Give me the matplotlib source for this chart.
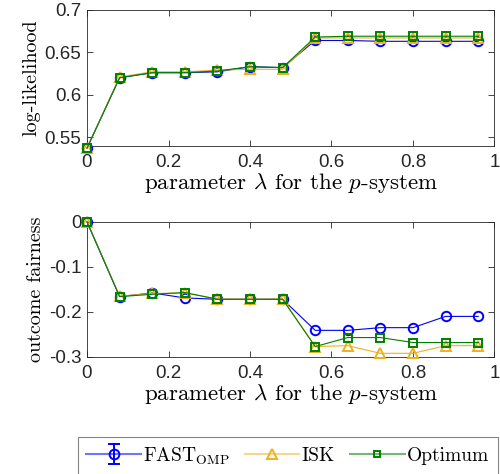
import matplotlib
matplotlib.use('Agg')
import matplotlib.pyplot as plt
from matplotlib.lines import Line2D
from matplotlib.path import Path
import numpy as np

# parameter lambda values
lam = [0, 0.08, 0.16, 0.24, 0.32, 0.40, 0.48, 0.56, 0.64, 0.72, 0.80, 0.88, 0.96]

# log-likelihood
ll_fast = [0.537, 0.620, 0.626, 0.626, 0.627, 0.633, 0.632, 0.664, 0.664, 0.663, 0.663, 0.663, 0.663]
ll_isk = [0.537, 0.621, 0.627, 0.627, 0.629, 0.630, 0.630, 0.667, 0.667, 0.667, 0.667, 0.667, 0.667]
ll_opt = [0.537, 0.620, 0.626, 0.626, 0.628, 0.633, 0.632, 0.668, 0.669, 0.669, 0.669, 0.669, 0.669]

# outcome fairness
of_fast = [0, -0.166, -0.158, -0.169, -0.172, -0.172, -0.172, -0.241, -0.241, -0.235, -0.235, -0.210, -0.210]
of_isk = [0, -0.165, -0.159, -0.158, -0.171, -0.172, -0.171, -0.277, -0.275, -0.292, -0.292, -0.275, -0.275]
of_opt = [0, -0.166, -0.161, -0.157, -0.172, -0.172, -0.172, -0.277, -0.257, -0.257, -0.268, -0.268, -0.268]

labels = [r'FAST$_{\mathrm{OMP}}$', 'ISK', 'Optimum']

blue = (0, 0, 1)
orange = (0.929, 0.694, 0.125)
green = (0, 0.5, 0)
edge = (0.15, 0.15, 0.15)

plt.rcParams['mathtext.fontset'] = 'cm'
tickfont = 'Liberation Sans'
labfont = 'cmr10'

fig = plt.figure(figsize=(5, 4.74), dpi=100)
ax1 = fig.add_axes([0.174, 0.692, 0.815, 0.287])
ax2 = fig.add_axes([0.174, 0.247, 0.815, 0.285])

for ax, ys in [(ax1, (ll_fast, ll_isk, ll_opt)), (ax2, (of_fast, of_isk, of_opt))]:
    ax.plot(lam, ys[0], color=blue, lw=0.8, marker='o', ms=6.8, mfc='none', mew=1.4, clip_on=False, zorder=3)
    ax.plot(lam, ys[1], color=orange, lw=0.8, marker='^', ms=7.2, mfc='none', mew=1.4, clip_on=False, zorder=4)
    ax.plot(lam, ys[2], color=green, lw=0.8, marker='s', ms=5.3, mfc='none', mew=1.4, clip_on=False, zorder=5)
    ax.set_xlim(0, 1)
    ax.set_xticks([0, 0.2, 0.4, 0.6, 0.8, 1])
    ax.set_xticklabels(['0', '0.2', '0.4', '0.6', '0.8', '1'])
    ax.tick_params(direction='in', top=True, right=True, length=4, width=0.6,
                   colors=edge, labelsize=13.5)
    ax.tick_params(axis='x', pad=6)
    ax.tick_params(axis='y', pad=4)
    for lab in ax.get_xticklabels() + ax.get_yticklabels():
        lab.set_fontfamily(tickfont)
        lab.set_color(edge)
    for s in ax.spines.values():
        s.set_color(edge)
        s.set_linewidth(0.6)
    ax.set_xlabel(r'parameter $\lambda$ for the $p$-system', fontsize=16.5, family=labfont, labelpad=0)

ax1.set_ylim(0.5395, 0.7)
ax1.set_yticks([0.55, 0.6, 0.65, 0.7])
ax1.set_yticklabels(['0.55', '0.6', '0.65', '0.7'], family=tickfont)
ax1.set_ylabel('log-likelihood', fontsize=14.5, family=labfont, labelpad=3)

ax2.set_ylim(-0.3, 0)
ax2.set_yticks([-0.3, -0.2, -0.1, 0])
ax2.set_yticklabels(['-0.3', '-0.2', '-0.1', '0'], family=tickfont)
ax2.set_ylabel('outcome fairness', fontsize=14.5, family=labfont, labelpad=3)

# legend handles
ebar = Path([(0, -1), (0, 1), (-0.6, 1), (0.6, 1), (-0.6, -1), (0.6, -1)],
            [Path.MOVETO, Path.LINETO, Path.MOVETO, Path.LINETO, Path.MOVETO, Path.LINETO])
h_fast = (Line2D([], [], color=(0.45, 0.45, 1), lw=1.5),
          Line2D([], [], color=blue, marker='o', ms=7, mfc='none', mew=1.4, ls='none'),
          Line2D([], [], color=blue, marker=ebar, ms=14, mew=1.4, ls='none'))
h_isk = (Line2D([], [], color=(0.96, 0.84, 0.55), lw=1.5),
         Line2D([], [], color=orange, marker='^', ms=7, mfc='none', mew=1.4, ls='none'))
h_opt = (Line2D([], [], color=(0.45, 0.72, 0.45), lw=1.5),
         Line2D([], [], color=green, marker='s', ms=5, mfc='none', mew=1.4, ls='none'))

leg = fig.legend([h_fast, h_isk, h_opt], labels, ncol=3, loc='upper right',
                 bbox_to_anchor=(0.995, 0.079), frameon=True, fancybox=False,
                 handlelength=2.8, handletextpad=0.1, columnspacing=0.8,
                 borderpad=0.45, borderaxespad=0, prop={'family': labfont, 'size': 14})
leg.get_frame().set_edgecolor((0.4, 0.4, 0.4))
leg.get_frame().set_linewidth(0.8)

fig.savefig('out.png', dpi=100)
